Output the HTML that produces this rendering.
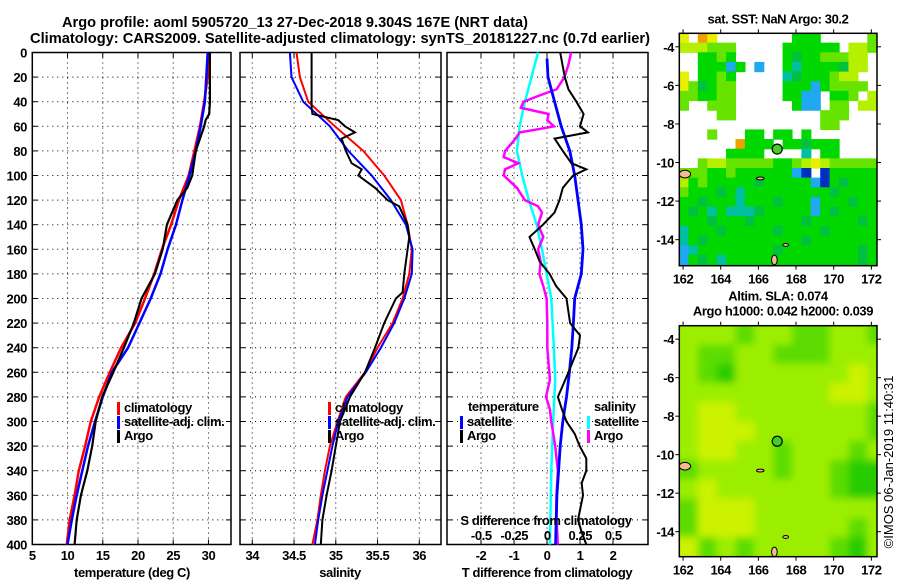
<!DOCTYPE html>
<html><head><meta charset="utf-8"><style>
html,body{margin:0;padding:0;background:#fff;}
svg{display:block;font-family:"Liberation Sans",Arial,sans-serif;}
.t{font-weight:bold;font-size:13px;letter-spacing:-0.4px;}
</style></head><body>
<svg id="fig" width="900" height="580" viewBox="0 0 900 580" xmlns="http://www.w3.org/2000/svg">
<rect width="900" height="580" fill="#fff"/>
<text x="62" y="27" font-size="15" font-weight="bold" textLength="466" lengthAdjust="spacingAndGlyphs">Argo profile: aoml 5905720_13 27-Dec-2018 9.304S 167E (NRT data)</text>
<text x="30" y="43" font-size="15" font-weight="bold" textLength="620" lengthAdjust="spacingAndGlyphs">Climatology: CARS2009. Satellite-adjusted climatology: synTS_20181227.nc (0.7d earlier)</text>
<text transform="translate(893,462) rotate(-90)" text-anchor="middle" font-size="13">©IMOS 06-Jan-2019 11:40:31</text>
<g id="root"></g>
</svg>
<script>
// ---------- profile data ----------
const depths = [0,20,40,60,80,100,120,140,160,180,200,220,240,260,280,300,320,340,360,380,400];
const tClim = [30.0,29.9,29.4,28.8,28.0,27.2,25.8,24.7,23.4,22.3,21.0,19.6,17.6,16.0,14.5,13.3,12.5,11.6,11.0,10.3,9.9];
const tSat  = [29.9,29.7,29.5,28.9,28.2,27.3,26.3,25.4,24.2,23.2,21.8,20.2,18.6,16.3,15.0,13.9,12.9,12.1,11.3,10.6,10.0];
const argoTDepths = [0,20,40,50,55,60,80,100,110,120,140,160,180,200,220,240,260,280,300,320,340,360,380,400];
const tArgo = [30.2,30.2,30.2,30.1,29.6,29.4,28.2,27.7,27.0,25.6,24.1,23.5,22.4,20.5,19.4,18.0,16.5,14.9,14.0,13.5,12.8,11.9,11.3,11.0];
const sClim = [34.53,34.57,34.67,34.99,35.33,35.58,35.78,35.86,35.91,35.88,35.80,35.68,35.50,35.35,35.12,35.02,34.93,34.87,34.82,34.78,34.72];
const sSat  = [34.45,34.47,34.61,34.93,35.15,35.43,35.66,35.84,35.92,35.91,35.82,35.70,35.54,35.36,35.14,35.03,34.96,34.90,34.84,34.79,34.75];
const argoSDepths = [0,45,50,55,60,65,70,80,90,95,100,110,120,125,140,150,160,180,195,200,220,240,260,280,300,320,340,360,380,400];
const sArgo = [34.71,34.71,34.72,35.03,35.11,35.23,35.07,35.12,35.19,35.31,35.27,35.47,35.62,35.76,35.86,35.88,35.86,35.82,35.80,35.72,35.58,35.47,35.35,35.17,35.05,35.00,34.95,34.89,34.84,34.82];
const dTSatDepths = [5,20,40,60,80,100,120,140,160,180,200,220,240,260,280,300,320,340,360,380,400];
const dTSat = [0.0,0.03,0.23,0.43,0.69,0.84,0.94,1.04,1.09,1.04,0.84,0.80,0.75,0.68,0.59,0.48,0.40,0.35,0.30,0.28,0.26];
const dTArgoDepths = [0,20,30,40,50,60,65,70,80,90,95,100,110,120,130,140,150,160,170,180,190,200,220,230,240,250,260,280,290,300,310,320,330,340,350,360,380,390,400];
const dTArgo = [0.40,0.54,0.65,0.89,1.11,1.0,1.24,0.23,0.48,0.74,1.19,0.79,0.48,0.38,0.23,-0.12,-0.53,-0.37,-0.22,0.08,0.28,0.59,0.70,1.0,0.95,0.80,0.65,0.33,0.45,0.59,0.84,0.99,1.19,1.19,1.05,1.09,0.94,1.05,1.19];
const dSSatDepths = [0,20,40,60,80,100,120,140,160,180,200,240,266,300,340,400];
const dSSat = [-0.07,-0.12,-0.17,-0.21,-0.23,-0.19,-0.14,-0.08,-0.04,-0.005,0.03,0.05,0.06,0.045,0.03,0.02];
const dSArgoDepths = [0,10,20,30,35,40,45,50,55,60,62,65,70,75,80,85,90,95,100,110,120,125,130,140,150,160,170,180,190,200,220,240,266,280,290,300,320,340,360,380,400];
const dSArgo = [0.18,0.16,0.13,0.07,-0.06,-0.18,-0.20,0.01,0.0,0.05,-0.05,-0.21,-0.24,-0.28,-0.32,-0.33,-0.22,-0.32,-0.33,-0.23,-0.17,-0.07,-0.04,-0.07,-0.03,-0.07,-0.05,-0.06,-0.03,-0.005,0.0,0.0,0.02,-0.01,0.02,0.03,0.06,0.08,0.07,0.07,0.08];
const depthTicks = [0,20,40,60,80,100,120,140,160,180,200,220,240,260,280,300,320,340,360,380,400];
const tTicks = [5,10,15,20,25,30];
const sTicks = [34,34.5,35,35.5,36];
const dTTicks = [-2,-1,0,1,2];
const dSTicks = [-0.5,-0.25,0,0.25,0.5];
const dSTickLabels = ["-0.5","-0.25","0","0.25","0.5"];
// ---------- map data ----------
const sstRows = [
"Y.oY........ggg.....l",
"yyylll.....gggggg.yyl",
"..gglg.....gGgglllyy.",
"..gggbg.b..gcggggGyy.",
"Y.gglg.....cGggglyy..",
"YlGgll.....gggbgllll.",
"llggll.....ggbb.ggl.y",
"l..lll......gbb.ll.yy",
"....ll.........lll...",
"...............ll....",
"...l...gg.gg.g.......",
"......oggg.ggGggg....",
".....gggg....c.gg....",
"..lyylllllgglyYylllll",
"lllgglggggggbd.dggggg",
"yglgggggGgggggbdgGggg",
"lgggGgcgggggggggGgggg",
"ggGgggcgggGgggbgggGgg",
"gGgcgcccGgggggbgGgggg",
"gggGgggGgggggGgggggGg",
"cgggGgggggGggggGggggg",
"cgGggggggggggGggggggg",
"bcggggggggGggggggggGg",
"bgGgcggggggggggggggGg"];
const slaRows = [
"lllgllggllg",
"lggllggglll",
"lgGllllllyl",
"llllllllyyl",
"lyylllllllg",
"lyyyllllllg",
"lyyllglllgl",
"gllllgllgGG",
"lyllllllgGG",
"gyyylllllll",
"gyyylllllgl",
"yglgllllgGl"];
const lonTicks = [162,164,166,168,170,172];
const latTicks = [-4,-6,-8,-10,-12,-14];
const argoLon = 167.0, argoLat = -9.304;

const NS="http://www.w3.org/2000/svg";
const root=document.getElementById('root');
function el(tag,attrs,parent){const e=document.createElementNS(NS,tag);for(const k in attrs)e.setAttribute(k,attrs[k]);(parent||root).appendChild(e);return e;}
function txt(s,x,y,anchor,parent,cls){const e=el('text',{x:x,y:y,'text-anchor':anchor||'middle','class':cls||'t'},parent);e.textContent=s;return e;}

const Y0=52.5,YPX=1.23;
const yOf=d=>Y0+d*YPX;
function panel(name,x0,x1,dmin,dmax){
  const g=el('g',{});
  
  
  const sx=v=>x0+(v-dmin)/(dmax-dmin)*(x1-x0);
  return {g,sx,x0,x1};
}
function frameGrid(p,xticks,name){
  depthTicks.forEach(d=>{
    const y=yOf(d);
    if(d>0&&d<400){const l=el('line',{x1:p.x0,x2:p.x1,y1:y,y2:y,stroke:'#000','stroke-width':1,'stroke-dasharray':'1,4'},p.g);
    }
    el('line',{x1:p.x0,x2:p.x0+5,y1:y,y2:y,stroke:'#000','stroke-width':1},p.g);
    el('line',{x1:p.x1-5,x2:p.x1,y1:y,y2:y,stroke:'#000','stroke-width':1},p.g);
  });
  xticks.forEach(v=>{
    const x=p.sx(v);
    const l=el('line',{x1:x,x2:x,y1:yOf(0),y2:yOf(400),stroke:'#000','stroke-width':1,'stroke-dasharray':'1,4'},p.g);
    
    el('line',{x1:x,x2:x,y1:yOf(0),y2:yOf(0)+5,stroke:'#000'},p.g);
    el('line',{x1:x,x2:x,y1:yOf(400)-5,y2:yOf(400),stroke:'#000'},p.g);
  });
  const f=el('rect',{x:p.x0,y:yOf(0),width:p.x1-p.x0,height:400*YPX,fill:'none',stroke:'#000','stroke-width':1.5},p.g);
  
}
function series(p,ds,vals,color,w,name){
  const pts=vals.map((v,i)=>p.sx(v).toFixed(1)+','+yOf(ds[i]).toFixed(1)).join(' ');
  const l=el('polyline',{points:pts,fill:'none',stroke:color,'stroke-width':w,'stroke-linejoin':'miter'},p.g);
  
  
}
function legend(p,x,y,color,label){
  const m=el('rect',{x:x,y:y-10,width:3,height:13,fill:color},p.g);
  
  
  const t=txt(label,x+7,y,'start',p.g);
  
  
}

// Panel 1: temperature
const p1=panel('temperature-panel',32.3,231,5,33.2);
frameGrid(p1,[10,15,20,25,30],'temperature-panel');
series(p1,depths,tClim,'#f00',2.5,'temperature-climatology-line');
series(p1,depths,tSat,'#00f',2.5,'temperature-satellite-line');
series(p1,argoTDepths,tArgo,'#000',2.2,'temperature-argo-line');
tTicks.forEach(v=>{const t=txt(String(v),p1.sx(v),560,'middle',p1.g);});
depthTicks.forEach(d=>{const t=txt(String(d),27,yOf(d)+5,'end',p1.g);});
{const t=txt('temperature (deg C)',132,577,'middle',p1.g);}
legend(p1,117,412,'#f00','climatology');
legend(p1,117,426,'#00f','satellite-adj. clim.');
legend(p1,117,440,'#000','Argo');

// Panel 2: salinity
const p2=panel('salinity-panel',240,441,33.853,36.26);
frameGrid(p2,sTicks,'salinity-panel');
series(p2,depths,sClim,'#f00',2,'salinity-climatology-line');
series(p2,depths,sSat,'#00f',2,'salinity-satellite-line');
series(p2,argoSDepths,sArgo,'#000',2,'salinity-argo-line');
sTicks.forEach(v=>{const t=txt(String(v),p2.sx(v),560,'middle',p2.g);});
{const t=txt('salinity',340,577,'middle',p2.g);}
legend(p2,328,412,'#f00','climatology');
legend(p2,328,426,'#00f','satellite-adj. clim.');
legend(p2,328,440,'#000','Argo');

// Panel 3: differences
const p3=panel('difference-panel',447,648,-3.03,3.06);
frameGrid(p3,dTTicks,'difference-panel');
const sS={g:p3.g,sx:v=>547.3+v*132,x0:p3.x0,x1:p3.x1};
series(sS,dSSatDepths,dSSat,'#0ff',2.5,'salinity-diff-satellite-line');
series(sS,dSArgoDepths,dSArgo,'#f0f',2.5,'salinity-diff-argo-line');
series(p3,dTSatDepths,dTSat,'#00f',2.8,'temperature-diff-satellite-line');
series(p3,dTArgoDepths,dTArgo,'#000',2,'temperature-diff-argo-line');
dTTicks.forEach(v=>{const t=txt(String(v),p3.sx(v),560,'middle',p3.g);});
dSTicks.forEach((v,i)=>{const t=txt(dSTickLabels[i],sS.sx(v),540,'middle',p3.g);});
{const t=txt('S difference from climatology',546,525,'middle',p3.g);}
{const t=txt('T difference from climatology',547,577,'middle',p3.g);}
{const t=txt('temperature',468,411,'start',p3.g);}
{const t=txt('salinity',594,411,'start',p3.g);}
legend(p3,460,426,'#00f','satellite');
legend(p3,460,440,'#000','Argo');
legend(p3,587,426,'#0ff','satellite');
legend(p3,587,440,'#f0f','Argo');

// ---------- maps ----------
const sstColors={g:'#00d800',G:'#00c040',l:'#66e400',y:'#b4f000',Y:'#e6f000',o:'#f0a000',b:'#20a8f0',c:'#00c0a0',d:'#0030c0'};
const slaColors={l:'#9cee00',y:'#ccf200',g:'#5cdc00',G:'#28cc00'};
function mapPanel(name,top,bottom,latTop,latBot,rows,colors,cellDeg,blur,title1,title2){
  const x0=679.3,x1=877,lon0=161.8,lon1=172.3;
  const sx=lon=>x0+(lon-lon0)/(lon1-lon0)*(x1-x0);
  const sy=lat=>top+(latTop-lat)/(latTop-latBot)*(bottom-top);
  const g=el('g',{});
  
  
  const cid=name+'-clip';
  const cp=el('clipPath',{id:cid},g);el('rect',{x:x0,y:top,width:x1-x0,height:bottom-top},cp);
  const cells=el('g',{'clip-path':'url(#'+cid+')'},g);
  if(blur){el('rect',{x:x0,y:top,width:x1-x0,height:bottom-top,fill:colors.l},cells);}
  const inner=el('g',blur?{filter:'url(#blur)'}:{},cells);
  rows.forEach((r,i)=>{for(let j=0;j<r.length;j++){const c=colors[r[j]];if(!c)continue;
    const lon=lon0+j*cellDeg,lat=latTop-i*cellDeg;
    let X=sx(lon)-0.3,Y=sy(lat)-0.3,W=sx(lon+cellDeg)-sx(lon)+0.6,H=sy(lat-cellDeg)-sy(lat)+0.6;
    if(blur){if(j==0){X-=12;W+=12;} if(j==r.length-1)W+=12; if(i==0){Y-=12;H+=12;} if(i==rows.length-1)H+=12;}
    const rc=el('rect',{x:X,y:Y,width:W,height:H,fill:c},inner);
    
    
  }});
  // islands
  [[161.8,-10.4,162.4,-10.8],[165.9,-10.75,166.3,-10.9],[167.3,-14.2,167.6,-14.35],[166.7,-14.8,167.0,-15.3]].forEach(b=>{
    const isl=el('ellipse',{cx:(sx(b[0])+sx(b[2]))/2,cy:(sy(b[1])+sy(b[3]))/2,rx:Math.abs(sx(b[2])-sx(b[0]))/2,ry:Math.abs(sy(b[3])-sy(b[1]))/2,fill:'#f5b890',stroke:'#000','stroke-width':1},cells);
    
  });
  const ci=el('circle',{cx:sx(argoLon),cy:sy(argoLat),r:5,fill:'#40d020',stroke:'#000','stroke-width':1.2},g);
  
  const fr=el('rect',{x:x0,y:top,width:x1-x0,height:bottom-top,fill:'none',stroke:'#000','stroke-width':1.5},g);
  
  lonTicks.forEach(v=>{const x=sx(v);el('line',{x1:x,x2:x,y1:top-4,y2:top,stroke:'#000'},g);el('line',{x1:x,x2:x,y1:bottom,y2:bottom+4,stroke:'#000'},g);
    const t=txt(String(v),x,bottom+18,'middle',g);});
  latTicks.forEach(v=>{const y=sy(v);el('line',{x1:x0-4,x2:x0,y1:y,y2:y,stroke:'#000'},g);el('line',{x1:x1,x2:x1+4,y1:y,y2:y,stroke:'#000'},g);
    const t=txt(String(v),674,y+5,'end',g);});
  if(title1){const t=txt(title1,778,top-10-(title2?15:0),'middle',g);}
  if(title2){const t=txt(title2,783,top-10,'middle',g);}
}
const defs=el('defs',{});
const flt=el('filter',{id:'blur',x:'-10%',y:'-10%',width:'120%',height:'120%'},defs);
el('feGaussianBlur',{stdDeviation:'4'},flt);
mapPanel('sst-map',33.3,265.7,-3.3,-15.35,sstRows,sstColors,0.5,false,'sat. SST: NaN Argo: 30.2',null);
mapPanel('sla-map',325.7,556.7,-3.3,-15.3,slaRows,slaColors,1.0,true,'Altim. SLA: 0.074','Argo h1000: 0.042 h2000: 0.039');
</script>
</body></html>
